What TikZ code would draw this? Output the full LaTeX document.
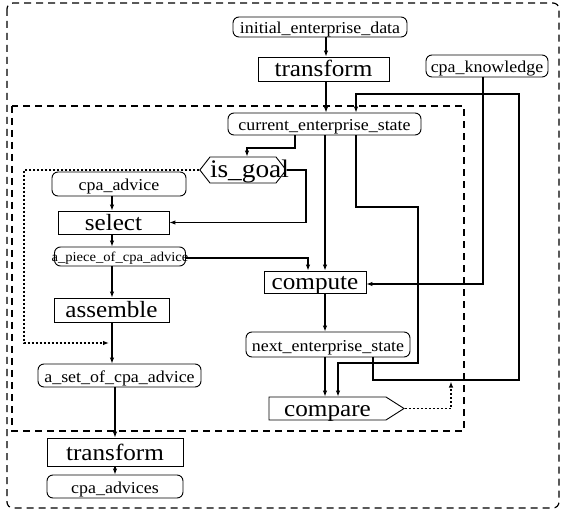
\documentclass[tikz,border=0pt]{standalone}
\usepackage{fontspec}
\usetikzlibrary{arrows.meta,shapes.symbols}
\newfontfamily\wideserif[FakeStretch=1.08]{Liberation Serif}
\newcommand{\smallfnt}{\wideserif\fontsize{16.6}{18}\selectfont}
\newcommand{\tinyfnt}{\wideserif\fontsize{13.5}{15}\selectfont}
\newcommand{\bigfnt}{\wideserif\fontsize{23.3}{25}\selectfont}
\newcommand{\goalfnt}{\wideserif\fontsize{25.3}{27}\selectfont}
\begin{document}
\begin{tikzpicture}[x=1pt,y=-1pt,
  data/.style={draw, line width=0.9pt, rounded corners=6pt, inner sep=0pt,
    font=\smallfnt, text height=14pt, text depth=0.5pt},
  proc/.style={draw, line width=0.9pt, rectangle, inner sep=0pt,
    font=\bigfnt, text height=17pt, text depth=1pt},
  goalbox/.style={draw, line width=0.9pt, shape=signal, signal to=west and east,
    signal pointer angle=104, inner xsep=0pt, inner ysep=0pt,
    minimum height=26pt, font=\goalfnt, text height=17pt, text depth=1pt},
  cmpbox/.style={draw, line width=0.9pt, shape=signal, signal to=east,
    signal pointer angle=65, inner xsep=0pt, inner ysep=0pt,
    minimum height=23pt, minimum width=135pt, font=\bigfnt,
    text height=17pt, text depth=1pt},
  arr/.style={draw, line width=1.1pt, -{Latex[length=6pt,width=4.5pt]}},
  dotarr/.style={draw, line width=1.1pt, dash pattern=on 2pt off 2pt,
    -{Latex[length=6pt,width=4.5pt]}},
  frame/.style={draw, line width=1.2pt, dash pattern=on 7pt off 5pt}]
\useasboundingbox (0,0) rectangle (562,510);

% outer and inner groupings
\draw[frame, rounded corners=6pt] (7,3) rectangle (559,508);
\draw[frame] (12,106) rectangle (464,431);

% nodes
\node[data, minimum width=174pt, minimum height=20pt] (init) at (320,27) {initial\_enterprise\_data};
\node[proc, minimum width=131pt, minimum height=24pt] (tr1) at (323.5,69) {transform};
\node[data, minimum width=122pt, minimum height=22pt] (know) at (487,66) {cpa\_knowledge};
\node[data, minimum width=193pt, minimum height=22pt] (cur) at (324.5,124) {current\_enterprise\_state};
\node[goalbox] (goal) at (243,170) {\makebox[66pt][l]{is\_goal}};
\node[data, minimum width=134pt, minimum height=24pt] (cadv) at (119,184) {cpa\_advice};
\node[proc, minimum width=111pt, minimum height=23pt] (sel) at (113.5,222.5) {select};
\node[data, minimum width=131pt, minimum height=19pt, font=\tinyfnt, text height=10pt, text depth=0.6pt] (piece) at (120,256.5) {\makebox[0pt]{a\_piece\_of\_cpa\_advice}};
\node[proc, minimum width=102pt, minimum height=22pt] (comp) at (315,282) {compute};
\node[proc, minimum width=115pt, minimum height=24pt] (asm) at (111.5,310) {assemble};
\node[data, minimum width=164pt, minimum height=25pt] (next) at (328,344.5) {next\_enterprise\_state};
\node[data, minimum width=163pt, minimum height=23pt] (aset) at (119.5,375.5) {a\_set\_of\_cpa\_advice};
\node[cmpbox] (cmpr) at (327.5,408.5) {compare};
\node[proc, minimum width=136pt, minimum height=28pt] (tr2) at (115,452) {transform};
\node[data, minimum width=136pt, minimum height=23pt] (cadvs) at (115,486.5) {cpa\_advices};

% connectors
\draw[arr] (init.south -| 326,0) -- (tr1.north -| 326,0);
\draw[arr] (tr1.south -| 326,0) -- (cur.north -| 326,0);
\draw[arr] (cur.south -| 295,0) |- (247,148) -- (goal.north -| 247,0);
\draw[dotarr, shorten >=2.5pt] (goal.west) -| (24,343) -- (asm.south |- 0,343);
\draw[arr] (goal.east) -| (306,200) |- (sel.east);
\draw[arr] (cadv.south -| 112,0) -- (sel.north -| 112,0);
\draw[arr] (sel.south -| 112,0) -- (piece.north -| 112,0);
\draw[arr] (piece.east |- 0,258) -| (comp.north -| 308,0);
\draw[arr] (cur.south -| 325,0) -- (comp.north -| 325,0);
\draw[arr] (cur.south -| 356,0) |- (418,207) |- (338,363) -- (cmpr.north -| 338,0);
\draw[arr] (know.south -| 483,0) |- (comp.east |- 0,284);
\draw[arr] (comp.south -| 325,0) -- (next.north -| 325,0);
\draw[arr] (next.south -| 325,0) -- (cmpr.north -| 325,0);
\draw[arr] (next.south -| 373,0) |- (519,380) |- (356,94) -- (cur.north -| 356,0);
\draw[dotarr, shorten >=1.5pt] (cmpr.east) -| (451,380);
\draw[arr] (piece.south -| 112,0) -- (asm.north -| 112,0);
\draw[arr] (asm.south -| 112,0) -- (aset.north -| 112,0);
\draw[arr] (aset.south -| 115,0) -- (tr2.north -| 115,0);
\draw[arr] (tr2.south -| 115,0) -- (cadvs.north -| 115,0);
\end{tikzpicture}
\end{document}
